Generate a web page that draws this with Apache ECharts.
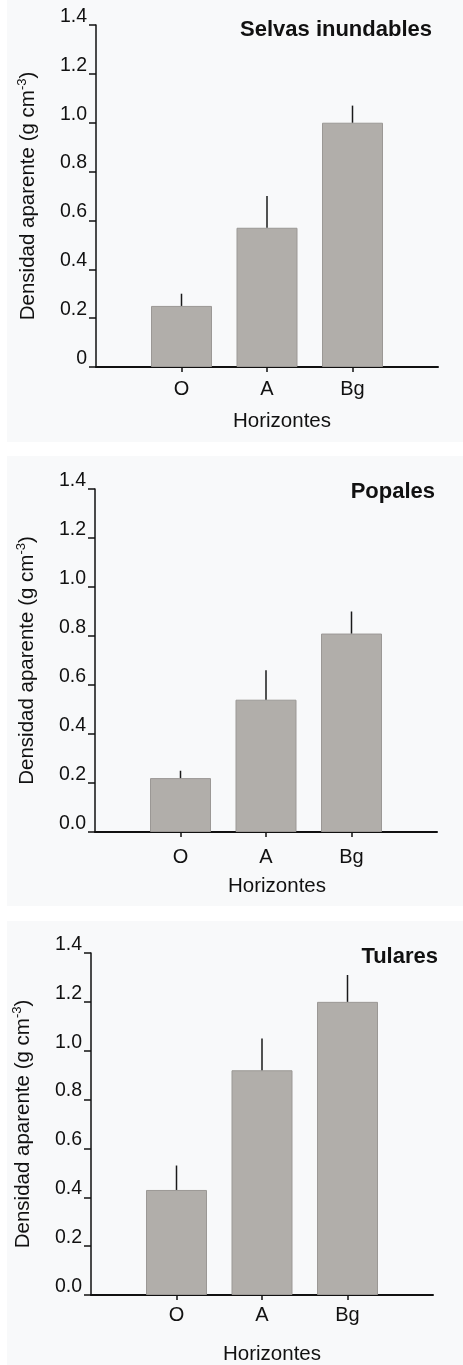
<!DOCTYPE html>
<html>
<head>
<meta charset="utf-8">
<script src="https://cdn.jsdelivr.net/npm/echarts@6/dist/echarts.min.js"></script>
<style>
  html, body { margin: 0; padding: 0; background: #ffffff; }
  #chart { width: 463px; height: 1365px; }
</style>
</head>
<body>
<div id="chart"></div>
<script>
// Soil horizons on the category axis
const categories = ['O', 'A', 'Bg'];

// Bulk density means and standard errors (g cm-3) per site
const selvasMean = [0.25, 0.57, 1.00];
const selvasErr = [0.05, 0.13, 0.07];
const popalesMean = [0.22, 0.54, 0.81];
const popalesErr = [0.03, 0.12, 0.09];
const tularesMean = [0.43, 0.92, 1.20];
const tularesErr = [0.10, 0.13, 0.11];

const panelTitles = ['Selvas inundables', 'Popales', 'Tulares'];
const zeroLabels = ['0', '0.0', '0.0'];
const yTickLabels = ['0.2', '0.4', '0.6', '0.8', '1.0', '1.2', '1.4'];

const FONT = '"Liberation Sans", Arial, Helvetica, sans-serif';
const INK = '#111111';

// Empty slots at both ends so the horizons sit inside the axis span
const paddedCats = [''].concat(categories, ['']);

const panels = [
  { mean: selvasMean, err: selvasErr, grid: { left: 96, right: 25, top: 25, height: 342 },
    title: { right: 26, top: 14 }, labelMargin: 12, nameGap: 44, namePad: 30 },
  { mean: popalesMean, err: popalesErr, grid: { left: 95, right: 26, top: 489, height: 343 },
    title: { right: 23, top: 476 }, labelMargin: 15, nameGap: 44, namePad: 22 },
  { mean: tularesMean, err: tularesErr, grid: { left: 91, right: 30, top: 953, height: 342 },
    title: { right: 20, top: 941 }, labelMargin: 10, nameGap: 49, namePad: 20 }
];

const grids = [], xAxes = [], yAxes = [], titles = [], series = [];

panels.forEach((p, k) => {
  grids.push(Object.assign({ outerBoundsMode: 'none' }, p.grid));

  titles.push({
    text: panelTitles[k],
    right: p.title.right,
    top: p.title.top,
    textStyle: { fontFamily: FONT, fontSize: 22, fontWeight: 'bold', color: INK }
  });

  xAxes.push({
    type: 'category',
    gridIndex: k,
    data: paddedCats,
    boundaryGap: false,
    name: 'Horizontes',
    nameLocation: 'middle',
    nameGap: p.nameGap,
    nameTextStyle: { fontFamily: FONT, fontSize: 20.5, color: INK, padding: [0, 0, 0, p.namePad] },
    axisLine: { show: true, lineStyle: { color: INK, width: 2 } },
    axisTick: {
      show: true, length: 5, inside: false,
      interval: (i) => i > 0 && i < paddedCats.length - 1,
      lineStyle: { color: INK, width: 1.5 }
    },
    axisLabel: { interval: 0, margin: p.labelMargin, fontFamily: FONT, fontSize: 20, color: INK },
    splitLine: { show: false }
  });

  yAxes.push({
    type: 'value',
    gridIndex: k,
    min: 0,
    max: 1.4,
    interval: 0.2,
    name: 'Densidad aparente (g cm{sup|-3})',
    nameLocation: 'middle',
    nameGap: 56,
    nameTextStyle: {
      fontFamily: FONT, fontSize: 20.5, color: INK, lineHeight: 24,
      rich: { sup: { fontFamily: FONT, fontSize: 13, color: INK, verticalAlign: 'top', lineHeight: 13 } }
    },
    axisLine: { show: true, lineStyle: { color: INK, width: 1.5 } },
    axisTick: { show: true, length: 7, inside: false, lineStyle: { color: INK, width: 1.5 } },
    axisLabel: {
      margin: 9, fontFamily: FONT, fontSize: 19.5, color: INK,
      verticalAlign: 'bottom', lineHeight: 17,
      formatter: (v) => {
        if (Math.abs(v) < 1e-9) return zeroLabels[k];
        const idx = Math.round(v / 0.2) - 1;
        return yTickLabels[idx];
      }
    },
    splitLine: { show: false }
  });

  series.push({
    type: 'bar',
    xAxisIndex: k,
    yAxisIndex: k,
    barWidth: 61,
    data: ['-'].concat(p.mean, ['-']),
    itemStyle: { color: '#b1aeaa', borderColor: '#9b9895', borderWidth: 1 },
    silent: true,
    z: 2
  });

  // Upper error whiskers: a single vertical stroke from the bar top
  series.push({
    type: 'custom',
    xAxisIndex: k,
    yAxisIndex: k,
    data: p.mean.map((m, i) => [i + 1, m, p.err[i]]),
    encode: { x: 0, y: 1 },
    renderItem: (params, api) => {
      const x = api.value(0), m = api.value(1), e = api.value(2);
      const a = api.coord([x, m]);
      const b = api.coord([x, m + e]);
      return {
        type: 'line',
        shape: { x1: a[0], y1: a[1], x2: b[0], y2: b[1] },
        style: { stroke: '#1a1a1a', lineWidth: 1.5 }
      };
    },
    silent: true,
    z: 3
  });
});

const chart = echarts.init(document.getElementById('chart'), null, { renderer: 'canvas' });
chart.setOption({
  backgroundColor: '#ffffff',
  animation: false,
  graphic: [
    { type: 'rect', shape: { x: 7, y: 0, width: 456, height: 442 }, style: { fill: '#f8f9fa' }, z: -10 },
    { type: 'rect', shape: { x: 7, y: 456, width: 456, height: 450 }, style: { fill: '#f8f9fa' }, z: -10 },
    { type: 'rect', shape: { x: 7, y: 921, width: 456, height: 444 }, style: { fill: '#f8f9fa' }, z: -10 }
  ],
  title: titles,
  grid: grids,
  xAxis: xAxes,
  yAxis: yAxes,
  series: series
});
</script>
</body>
</html>
